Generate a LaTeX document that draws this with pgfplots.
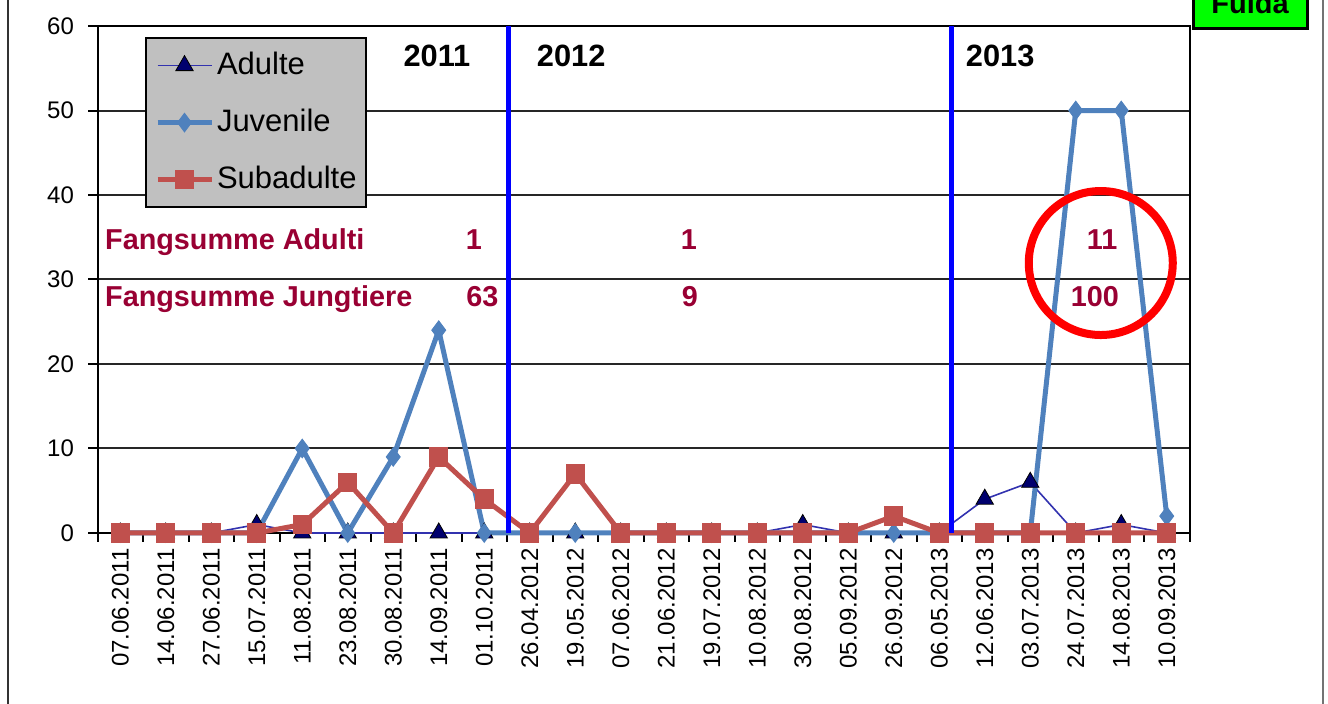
\documentclass[border=0pt]{standalone}
\usepackage{fontspec}
\setmainfont{Liberation Sans}
\usepackage{pgfplots}
\usepackage{pgfplotstable}
\pgfplotsset{compat=1.18}

\definecolor{juv}{RGB}{79,129,189}
\definecolor{sub}{RGB}{192,80,77}
\definecolor{adl}{RGB}{50,50,175}
\definecolor{adlmark}{RGB}{0,0,110}
\definecolor{sumtxt}{RGB}{153,0,51}
\definecolor{leggray}{RGB}{192,192,192}
\definecolor{fuldagreen}{RGB}{0,255,0}

% k = Fangtermin (0 = 07.06.2011 ... 23 = 10.09.2013)
\pgfplotstableread{
k  adulte juvenile subadulte
0  0  0  0
1  0  0  0
2  0  0  0
3  1  0  0
4  0  10 1
5  0  0  6
6  0  9  0
7  0  24 9
8  0  0  4
9  0  0  0
10 0  0  7
11 0  0  0
12 0  0  0
13 0  0  0
14 0  0  0
15 1  0  0
16 0  0  0
17 0  0  2
18 0  0  0
19 4  0  0
20 6  0  0
21 0  50 0
22 1  50 0
23 0  2  0
}\fangdaten

\begin{document}
\begin{tikzpicture}
\begin{axis}[
    at={(0,0)}, anchor=south west,
    scale only axis,
    width=546pt, height=253.5pt,
    xmin=-0.5, xmax=23.5, ymin=0, ymax=60,
    ytick={0,10,...,60},
    ymajorgrids, major grid style={black!85, line width=1pt},
    xtick={0,...,23},
    xticklabels={07.06.2011,14.06.2011,27.06.2011,15.07.2011,11.08.2011,23.08.2011,30.08.2011,14.09.2011,01.10.2011,
                 26.04.2012,19.05.2012,07.06.2012,21.06.2012,19.07.2012,10.08.2012,30.08.2012,05.09.2012,26.09.2012,
                 06.05.2013,12.06.2013,03.07.2013,24.07.2013,14.08.2013,10.09.2013},
    major x tick style={draw=none},
    minor xtick={-0.5,0.5,...,23.5},
    xtick pos=bottom, ytick pos=left,
    tick align=outside,
    major tick length=4.5pt, minor tick length=4.5pt,
    tick style={black, line width=1pt},
    axis line style={black, line width=1pt},
    tick label style={font=\fontsize{12}{14}\selectfont},
    xticklabel style={rotate=90, anchor=east, inner sep=3pt},
    yticklabel style={xshift=-3.75pt},
    /pgf/number format/assume math mode=true,
    clip=false,
    legend cell align=left,
    legend image code/.code={\draw[mark repeat=2, mark phase=2, #1]
        plot coordinates {(0pt,0pt) (13.5pt,0pt) (27pt,0pt)};},
    legend style={at={(axis description cs:0.0435,0.9777)}, anchor=north west,
        fill=leggray, draw=black, line width=1pt,
        font=\fontsize{15.5}{18}\selectfont,
        inner xsep=4.5pt, inner ysep=6.4pt, row sep=14pt, column sep=1.5pt,
        nodes={inner sep=0pt, text height=11.5pt, text depth=3pt}},
]
\addplot[adl, line width=0.8pt, mark=triangle*, mark size=5pt,
    mark options={fill=adlmark, draw=black, line width=0.4pt}]
    table[x=k, y=adulte] {\fangdaten};
\addplot[juv, line width=2.5pt, mark=diamond*, mark size=4.6pt,
    mark options={fill=juv, draw=juv, line width=0.5pt}]
    table[x=k, y=juvenile] {\fangdaten};
\addplot[sub, line width=2.5pt, mark=square*, mark size=4.6pt,
    mark options={fill=sub, draw=sub, line width=0.5pt}]
    table[x=k, y=subadulte] {\fangdaten};
\legend{Adulte, Juvenile, Subadulte}

% Jahresgrenzen
\draw[blue, line width=2.5pt] (axis cs:8.54,0) -- (axis cs:8.54,60);
\draw[blue, line width=2.5pt] (axis cs:18.26,0) -- (axis cs:18.26,60);

\node[anchor=base, font=\bfseries\fontsize{15.4}{18}\selectfont] at (axis cs:6.96,55.2) {2011};
\node[anchor=base, font=\bfseries\fontsize{15.4}{18}\selectfont] at (axis cs:9.91,55.2) {2012};
\node[anchor=base, font=\bfseries\fontsize{15.4}{18}\selectfont] at (axis cs:19.34,55.2) {2013};

% Fangsummen
\begin{scope}[every node/.style={text=sumtxt, inner sep=0pt, font=\bfseries\fontsize{14.4}{17}\selectfont}]
\node[anchor=base west] at (axis cs:-0.34,33.5) {Fangsumme Adulti};
\node[anchor=base west] at (axis cs:-0.34,26.85) {Fangsumme Jungtiere};
\node[anchor=base] at (axis cs:7.77,33.5) {1};
\node[anchor=base] at (axis cs:7.96,26.85) {63};
\node[anchor=base] at (axis cs:12.5,33.5) {1};
\node[anchor=base] at (axis cs:12.52,26.85) {9};
\node[anchor=base] at (axis cs:21.58,33.5) {11};
\node[anchor=base] at (axis cs:21.42,26.85) {100};
\end{scope}
\draw[red, line width=4pt] (axis cs:21.55,31.95) circle[radius=36pt];
\end{axis}

% Rahmen und Standortkennung
\draw[black!80, line width=1.2pt] (-44.75pt,-90pt) -- (-44.75pt,270pt);
\draw[black!55, line width=1pt] (612.75pt,-90pt) -- (612.75pt,270pt);
\draw[black, line width=1.5pt, fill=fuldagreen] (547.75pt,252pt) rectangle (604.75pt,285pt);
\node[anchor=base, inner sep=0pt, font=\bfseries\fontsize{14.5}{17}\selectfont] at (576.25pt,259.5pt) {Fulda};

\pgfresetboundingbox
\useasboundingbox (-48.75pt,-85.5pt) rectangle (615.25pt,266.5pt);
\end{tikzpicture}
\end{document}
